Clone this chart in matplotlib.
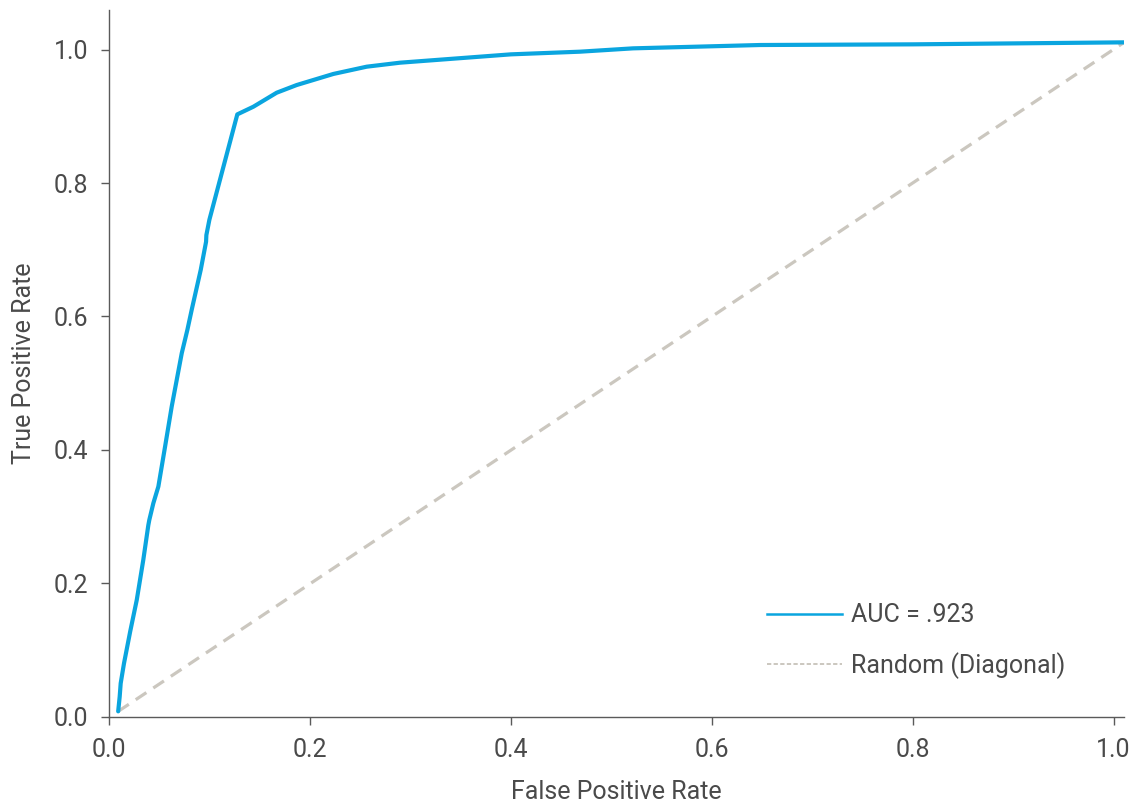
import matplotlib
matplotlib.use("Agg")
import matplotlib.pyplot as plt
from matplotlib.lines import Line2D

# ROC curve values
fpr = [0.009, 0.0105, 0.0115, 0.0148, 0.021, 0.0275, 0.034, 0.039, 0.040, 0.044,
       0.049, 0.0557, 0.0623, 0.0673, 0.0723, 0.0779, 0.0822, 0.0912, 0.0965, 0.0968,
       0.0998, 0.1276, 0.1436, 0.1668, 0.1867, 0.2232, 0.2564, 0.2896, 0.40, 0.4688,
       0.5216, 0.648, 0.80, 1.0105]
tpr = [0.008, 0.03, 0.05, 0.08, 0.128, 0.175, 0.235, 0.287, 0.295, 0.32,
       0.345, 0.405, 0.465, 0.505, 0.545, 0.580, 0.610, 0.670, 0.712, 0.722,
       0.745, 0.903, 0.9145, 0.9355, 0.947, 0.9636, 0.9745, 0.9805, 0.993, 0.997,
       1.002, 1.007, 1.008, 1.011]
diag_x = [0.009, 1.0105]
diag_y = [0.008, 1.011]

labels = ["AUC = .923", "Random (Diagonal)"]
xticks = [0.0, 0.2, 0.4, 0.6, 0.8, 1.0]
yticks = [0.0, 0.2, 0.4, 0.6, 0.8, 1.0]

BLUE = "#0aa5df"
GRAY = "#cbc7bf"
TEXT = "#4a4a4a"
SPINE = "#5a5a5a"

plt.rcParams['font.family'] = ['Roboto', 'DejaVu Sans']

fig = plt.figure(figsize=(11.38, 8.06), dpi=100)
ax = fig.add_axes([0.0959, 0.1108, 0.8915, 0.8768])

ax.plot(diag_x, diag_y, color=GRAY, lw=2.3, ls=(0, (4, 2.6)), zorder=2)
ax.plot(fpr, tpr, color=BLUE, lw=3.0, solid_capstyle='round', solid_joinstyle='round', zorder=3)

ax.set_xlim(0, 1.01)
ax.set_ylim(0, 1.0595)
ax.set_xticks(xticks)
ax.set_yticks(yticks)
ax.set_xticklabels([f"{v:.1f}" for v in xticks])
ax.set_yticklabels([f"{v:.1f}" for v in yticks])

for s in ['top', 'right']:
    ax.spines[s].set_visible(False)
for s in ['left', 'bottom']:
    ax.spines[s].set_color(SPINE)
    ax.spines[s].set_linewidth(1.0)

ax.tick_params(axis='both', direction='out', length=6, width=1.0, color=SPINE,
               labelsize=18, labelcolor=TEXT, pad=9)

ax.set_xlabel("False Positive Rate", fontsize=18, color=TEXT, labelpad=13)
ax.set_ylabel("True Positive Rate", fontsize=18, color=TEXT, labelpad=13)

handles = [Line2D([0], [0], color=BLUE, lw=1.8),
           Line2D([0], [0], color=GRAY, lw=1.4, ls=(0, (2.2, 1.2)))]
leg = ax.legend(handles, labels, loc='upper left', bbox_to_anchor=(0.655, 0.170),
                bbox_transform=ax.transData, frameon=False, fontsize=18,
                handlelength=3.0, handletextpad=0.35, labelspacing=1.0,
                borderpad=0, borderaxespad=0)
for t in leg.get_texts():
    t.set_color(TEXT)

fig.savefig("out.png", dpi=100)
